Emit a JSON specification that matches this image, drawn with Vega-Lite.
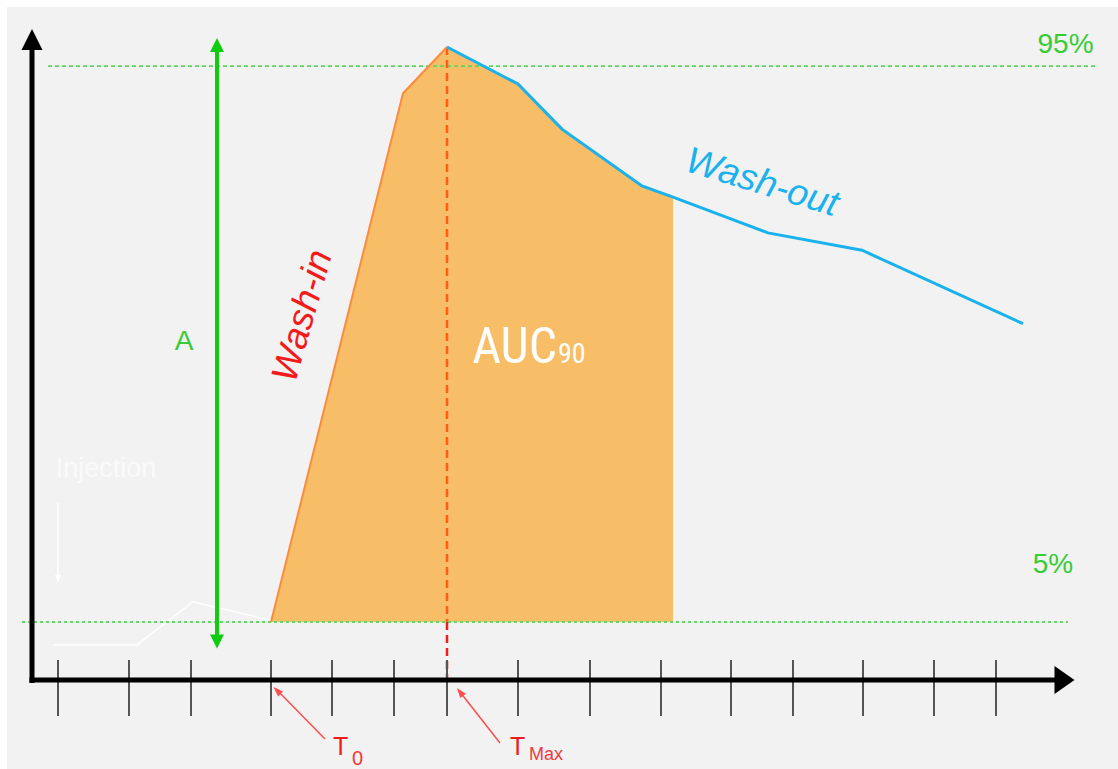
{
  "$schema": "https://vega.github.io/schema/vega-lite/v6.json",
  "width": 1118,
  "height": 769,
  "autosize": {"type": "fit", "contains": "padding"},
  "padding": {"left": 7, "top": 7, "right": 0, "bottom": 0},
  "background": "#ffffff",
  "config": {"view": {"stroke": null, "fill": "#f2f2f2"}},
  "encoding": {
    "x": {"field": "t", "type": "quantitative", "scale": {"domain": [-2.6, 108.5], "nice": false, "zero": false}, "axis": null},
    "y": {"field": "y", "type": "quantitative", "scale": {"domain": [-18.78, 104.57], "nice": false, "zero": false}, "axis": null}
  },
  "layer": [
    {
      "data": {"values": [
        {"t": 23.8, "y": 5.0}, {"t": 37.0, "y": 90.6}, {"t": 41.4, "y": 98.1}, {"t": 48.5, "y": 92.1},
        {"t": 52.9, "y": 84.8}, {"t": 60.9, "y": 75.6}, {"t": 64.0, "y": 73.8}
      ]},
      "mark": {"type": "area", "color": "#f7bd67", "opacity": 1},
      "encoding": {"y2": {"datum": 5}}
    },
    {
      "data": {"values": [
        {"t": 2.0, "y": 1.3}, {"t": 10.4, "y": 1.3}, {"t": 16.0, "y": 8.3}, {"t": 23.8, "y": 5.3}
      ]},
      "mark": {"type": "line", "color": "#ffffff", "strokeWidth": 1.5},
      "encoding": {}
    },
    {
      "data": {"values": [{"t": -1.1, "t2": 103.5, "y": 5}]},
      "mark": {"type": "rule", "color": "#62d962", "strokeWidth": 2, "strokeDash": [3, 3]},
      "encoding": {"x2": {"field": "t2"}}
    },
    {
      "data": {"values": [{"t": 1.5, "t2": 106.5, "y": 95}]},
      "mark": {"type": "rule", "color": "#5ad65a", "strokeWidth": 1.8, "strokeDash": [4, 3]},
      "encoding": {"x2": {"field": "t2"}}
    },
    {
      "data": {"values": [{"t": 41.4, "y": 98.1, "y2": 5}]},
      "mark": {"type": "rule", "color": "#ff5e16", "strokeWidth": 2.5, "strokeDash": [8, 5]},
      "encoding": {"y2": {"field": "y2"}}
    },
    {
      "data": {"values": [{"t": 41.4, "y": 5, "y2": -4.37}]},
      "mark": {"type": "rule", "color": "#ec1f1f", "strokeWidth": 2.5, "strokeDash": [8, 5]},
      "encoding": {"y2": {"field": "y2"}}
    },
    {
      "data": {"values": [
        {"t": 23.8, "y": 5.0}, {"t": 37.0, "y": 90.6}, {"t": 41.4, "y": 98.1}
      ]},
      "mark": {"type": "line", "color": "#ff8a3a", "strokeWidth": 2},
      "encoding": {}
    },
    {
      "data": {"values": [
        {"t": 41.4, "y": 98.1}, {"t": 48.5, "y": 92.1}, {"t": 52.9, "y": 84.8}, {"t": 60.9, "y": 75.6},
        {"t": 64.0, "y": 73.8}, {"t": 73.5, "y": 68.0}, {"t": 82.9, "y": 65.2}, {"t": 99.0, "y": 53.3}
      ]},
      "mark": {"type": "line", "color": "#1ab2ec", "strokeWidth": 3},
      "encoding": {}
    },
    {
      "data": {"values": [
        {"t": 2.5, "y": -1.13, "y2": -10.2}, {"t": 9.6, "y": -1.13, "y2": -10.2}, {"t": 15.8, "y": -1.13, "y2": -10.2},
        {"t": 23.8, "y": -1.13, "y2": -10.2}, {"t": 29.9, "y": -1.13, "y2": -10.2}, {"t": 36.1, "y": -1.13, "y2": -10.2},
        {"t": 41.4, "y": -1.13, "y2": -10.2}, {"t": 48.5, "y": -1.13, "y2": -10.2}, {"t": 55.7, "y": -1.13, "y2": -10.2},
        {"t": 62.8, "y": -1.13, "y2": -10.2}, {"t": 69.8, "y": -1.13, "y2": -10.2}, {"t": 76.0, "y": -1.13, "y2": -10.2},
        {"t": 83.0, "y": -1.13, "y2": -10.2}, {"t": 90.1, "y": -1.13, "y2": -10.2}, {"t": 96.3, "y": -1.13, "y2": -10.2}
      ]},
      "mark": {"type": "rule", "color": "#555555", "strokeWidth": 2},
      "encoding": {"y2": {"field": "y2"}}
    },
    {
      "data": {"values": [
        {"t": -0.1, "t2": -0.1, "y": -4.86, "y2": 98.4},
        {"t": -0.35, "t2": 102.5, "y": -4.37, "y2": -4.37}
      ]},
      "mark": {"type": "rule", "color": "#000000", "strokeWidth": 5},
      "encoding": {"x2": {"field": "t2"}, "y2": {"field": "y2"}}
    },
    {
      "data": {"values": [{"t": -0.1, "y": 99.3}]},
      "mark": {"type": "point", "shape": "M0,-1L1,1L-1,1Z", "size": 441, "filled": true, "color": "#000000", "opacity": 1, "strokeWidth": 0},
      "encoding": {}
    },
    {
      "data": {"values": [{"t": 103.15, "y": -4.37}]},
      "mark": {"type": "point", "shape": "M1,0L-1,-1.4L-1,1.4Z", "size": 400, "filled": true, "color": "#000000", "opacity": 1, "strokeWidth": 0},
      "encoding": {}
    },
    {
      "data": {"values": [{"t": 18.4, "y": 2.7, "y2": 97.7}]},
      "mark": {"type": "rule", "color": "#0fcc0f", "strokeWidth": 4},
      "encoding": {"y2": {"field": "y2"}}
    },
    {
      "data": {"values": [{"t": 18.4, "y": 98.41}]},
      "mark": {"type": "point", "shape": "M0,-1L1,1L-1,1Z", "size": 196, "filled": true, "color": "#0fcc0f", "opacity": 1, "strokeWidth": 0},
      "encoding": {}
    },
    {
      "data": {"values": [{"t": 18.4, "y": 1.86}]},
      "mark": {"type": "point", "shape": "M0,1L1,-1L-1,-1Z", "size": 196, "filled": true, "color": "#0fcc0f", "opacity": 1, "strokeWidth": 0},
      "encoding": {}
    },
    {
      "data": {"values": [{"t": 2.5, "y": 24.28, "y2": 12.3}]},
      "mark": {"type": "rule", "color": "#ffffff", "strokeWidth": 1.5},
      "encoding": {"y2": {"field": "y2"}}
    },
    {
      "data": {"values": [{"t": 2.5, "y": 11.98}]},
      "mark": {"type": "point", "shape": "M0,1L0.75,-1L-0.75,-1Z", "size": 64, "filled": true, "color": "#ffffff", "opacity": 1, "strokeWidth": 0},
      "encoding": {}
    },
    {
      "data": {"values": [
        {"t": 29.2, "t2": 24.3, "y": -13.92, "y2": -5.83},
        {"t": 46.7, "t2": 42.7, "y": -14.57, "y2": -6.31}
      ]},
      "mark": {"type": "rule", "color": "#ff4d4d", "strokeWidth": 1.5},
      "encoding": {"x2": {"field": "t2"}, "y2": {"field": "y2"}}
    },
    {
      "data": {"values": [{"t": 24.4, "y": -6.07}]},
      "mark": {"type": "point", "shape": "M0,-1L0.7,1L-0.7,1Z", "size": 100, "angle": -45, "filled": true, "color": "#ff4d4d", "opacity": 1, "strokeWidth": 0},
      "encoding": {}
    },
    {
      "data": {"values": [{"t": 42.7, "y": -6.31}]},
      "mark": {"type": "point", "shape": "M0,-1L0.7,1L-0.7,1Z", "size": 100, "angle": -38, "filled": true, "color": "#ff4d4d", "opacity": 1, "strokeWidth": 0},
      "encoding": {}
    },
    {
      "data": {"values": [
        {"t": 103.25, "y": 97.1, "label": "95%"},
        {"t": 102.0, "y": 12.95, "label": "5%"},
        {"t": 15.1, "y": 49.05, "label": "A"}
      ]},
      "mark": {"type": "text", "color": "#36cc36", "font": "Arial, Liberation Sans, sans-serif", "fontSize": 28, "align": "center", "baseline": "alphabetic"},
      "encoding": {"text": {"field": "label"}}
    },
    {
      "data": {"values": [{"t": 7.3, "y": 28.49, "label": "Injection"}]},
      "mark": {"type": "text", "color": "#fafafa", "font": "Arial, Liberation Sans, sans-serif", "fontSize": 27, "align": "center", "baseline": "alphabetic"},
      "encoding": {"text": {"field": "label"}}
    },
    {
      "data": {"values": [{"t": 52.4, "y": 46.94, "label": "AUC"}]},
      "mark": {"type": "text", "color": "#ffffff", "font": "Liberation Sans Narrow, Arial Narrow, Roboto Condensed, Liberation Sans", "fontSize": 50, "align": "right", "baseline": "alphabetic"},
      "encoding": {"text": {"field": "label"}}
    },
    {
      "data": {"values": [{"t": 52.5, "y": 46.94, "label": "90"}]},
      "mark": {"type": "text", "color": "#ffffff", "font": "Liberation Sans Narrow, Arial Narrow, Roboto Condensed, Liberation Sans", "fontSize": 28, "align": "left", "baseline": "alphabetic"},
      "encoding": {"text": {"field": "label"}}
    },
    {
      "data": {"values": [{"t": 27.0, "y": 54.55, "label": "Wash-in"}]},
      "mark": {"type": "text", "color": "#f21a1a", "font": "Arial, Liberation Sans, sans-serif", "fontSize": 37, "fontStyle": "italic", "angle": -74, "align": "center", "baseline": "middle"},
      "encoding": {"text": {"field": "label"}}
    },
    {
      "data": {"values": [{"t": 72.9, "y": 76.08, "label": "Wash-out"}]},
      "mark": {"type": "text", "color": "#1ab2ec", "font": "Arial, Liberation Sans, sans-serif", "fontSize": 37, "fontStyle": "italic", "angle": 17, "align": "center", "baseline": "middle"},
      "encoding": {"text": {"field": "label"}}
    },
    {
      "data": {"values": [{"t": 30.0, "y": -16.51, "label": "T"}, {"t": 47.7, "y": -16.51, "label": "T"}]},
      "mark": {"type": "text", "color": "#f01c1c", "font": "Arial, Liberation Sans, sans-serif", "fontSize": 25, "align": "left", "baseline": "alphabetic"},
      "encoding": {"text": {"field": "label"}}
    },
    {
      "data": {"values": [{"t": 31.9, "y": -18.13, "label": "0"}]},
      "mark": {"type": "text", "color": "#f03a3a", "font": "Arial, Liberation Sans, sans-serif", "fontSize": 20, "align": "left", "baseline": "alphabetic"},
      "encoding": {"text": {"field": "label"}}
    },
    {
      "data": {"values": [{"t": 49.6, "y": -17.32, "label": "Max"}]},
      "mark": {"type": "text", "color": "#f03a3a", "font": "Arial, Liberation Sans, sans-serif", "fontSize": 18, "align": "left", "baseline": "alphabetic"},
      "encoding": {"text": {"field": "label"}}
    }
  ]
}
